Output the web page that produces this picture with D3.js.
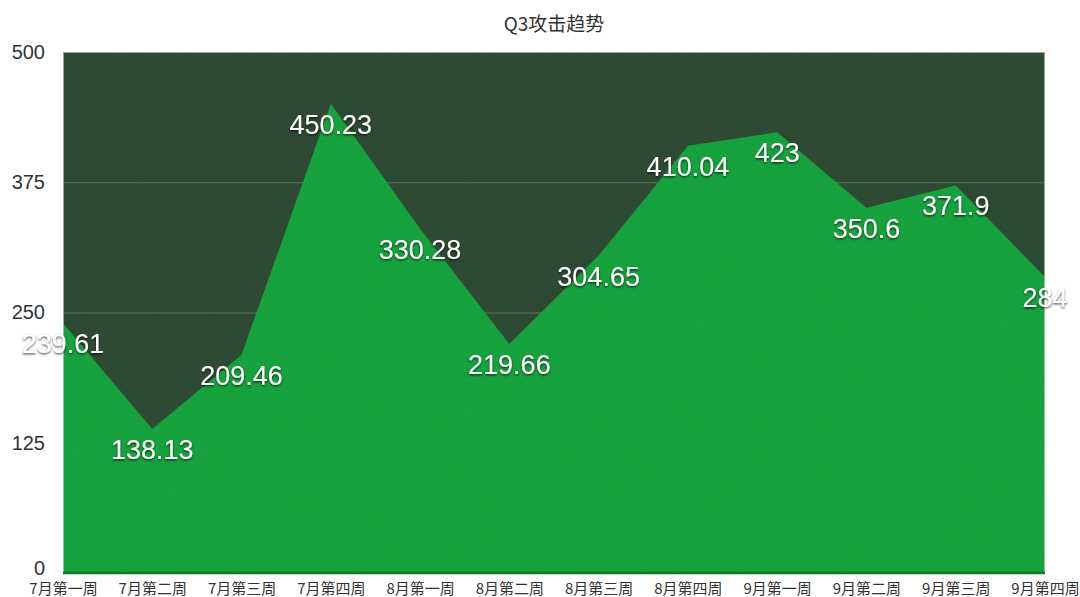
<!DOCTYPE html>
<html>
<head>
<meta charset="utf-8">
<script src="https://cdn.jsdelivr.net/npm/d3@7"></script>
<style>
  html, body { margin: 0; padding: 0; background: #fff; }
  svg { display: block; }
</style>
</head>
<body>
<div id="chart"></div>
<script>
// Weekly attack counts for Q3
const weeks = ["7月第一周", "7月第二周", "7月第三周", "7月第四周",
               "8月第一周", "8月第二周", "8月第三周", "8月第四周",
               "9月第一周", "9月第二周", "9月第三周", "9月第四周"];
const attacks = [239.61, 138.13, 209.46, 450.23, 330.28, 219.66,
                 304.65, 410.04, 423, 350.6, 371.9, 284];
const yTicks = [0, 125, 250, 375, 500];
const title = "Q3攻击趋势";

const W = 1080, H = 597;
const m = { top: 52, right: 35, bottom: 24, left: 63 };
const iw = W - m.left - m.right, ih = H - m.top - m.bottom;

const svg = d3.select("#chart").append("svg")
  .attr("width", W).attr("height", H);

const defs = svg.append("defs");
// Grain for the chalkboard-like plot surface
const grain = defs.append("filter").attr("id", "grain")
  .attr("x", 0).attr("y", 0).attr("width", "100%").attr("height", "100%");
grain.append("feTurbulence").attr("type", "fractalNoise")
  .attr("baseFrequency", 0.85).attr("numOctaves", 2).attr("seed", 3);
grain.append("feColorMatrix").attr("type", "matrix")
  .attr("values", "0 0 0 0 0  0 0 0 0 0  0 0 0 0 0  0 0 0 -1.2 1.1");
// Soft dark shadow under value labels
const shadow = defs.append("filter").attr("id", "shadow")
  .attr("x", "-20%").attr("y", "-30%").attr("width", "140%").attr("height", "160%");
shadow.append("feDropShadow").attr("dx", 0).attr("dy", 1.2)
  .attr("stdDeviation", 1.1).attr("flood-color", "#000").attr("flood-opacity", 0.75);
defs.append("clipPath").attr("id", "plotClip")
  .append("rect").attr("width", iw).attr("height", ih);

const x = d3.scalePoint().domain(weeks).range([0, iw]);
const y = d3.scaleLinear().domain([0, 500]).range([ih, 0]);

const g = svg.append("g").attr("transform", `translate(${m.left},${m.top})`);

// Plot background
g.append("rect").attr("width", iw).attr("height", ih).attr("fill", "#314d36");

// Gridlines
g.append("g").selectAll("line").data(yTicks.filter(t => t > 0 && t < 500)).join("line")
  .attr("x1", 0).attr("x2", iw)
  .attr("y1", d => y(d) + 0.5).attr("y2", d => y(d) + 0.5)
  .attr("stroke", "#6f8670").attr("stroke-width", 1).attr("opacity", 0.8);

// Area
const area = d3.area()
  .x((d, i) => x(weeks[i]))
  .y0(ih)
  .y1(d => y(d));
g.append("path").datum(attacks)
  .attr("d", area)
  .attr("fill", "#18a841");

// Grain overlay
g.append("rect").attr("width", iw).attr("height", ih)
  .attr("fill", "#000").attr("filter", "url(#grain)").attr("opacity", 0.07)
  .attr("clip-path", "url(#plotClip)");

// Plot border
g.append("rect").attr("x", 0.5).attr("y", 0.5).attr("width", iw - 1).attr("height", ih - 1)
  .attr("fill", "none").attr("stroke", "#c9cfc9").attr("stroke-width", 1).attr("opacity", 0.7);

// Baseline
g.append("line").attr("x1", 0).attr("x2", iw).attr("y1", ih).attr("y2", ih)
  .attr("stroke", "#0d7a2c").attr("stroke-width", 2.5);

// Y axis labels
const yAxis = g.append("g").call(d3.axisLeft(y).tickValues(yTicks).tickSize(0).tickPadding(18));
yAxis.select(".domain").remove();
yAxis.selectAll("text")
  .attr("fill", "#333").attr("font-size", "20px")
  .attr("font-family", "'Liberation Sans', Arial, Helvetica, sans-serif");
// Lift the zero label so it clears the first category name
yAxis.selectAll(".tick").filter(d => d === 0).select("text").attr("dy", "0.05em");

// X axis labels
const xAxis = g.append("g").attr("transform", `translate(0,${ih})`)
  .call(d3.axisBottom(x).tickSize(0).tickPadding(10));
xAxis.select(".domain").remove();
xAxis.selectAll("text")
  .attr("fill", "#333").attr("font-size", "15px")
  .attr("font-family", "'Noto Sans CJK SC', sans-serif");

// Value labels
g.append("g").selectAll("text").data(attacks).join("text")
  .attr("x", (d, i) => x(weeks[i]))
  .attr("y", d => y(d) + 21)
  .attr("text-anchor", "middle")
  .attr("dominant-baseline", "central")
  .attr("fill", "#fff")
  .attr("font-size", "27px")
  .attr("font-family", "'Liberation Sans', Arial, Helvetica, sans-serif")
  .attr("filter", "url(#shadow)")
  .text(d => d);

// Title
svg.append("text")
  .attr("x", m.left + iw / 2).attr("y", 22)
  .attr("text-anchor", "middle").attr("dominant-baseline", "central")
  .attr("fill", "#333").attr("font-size", "19px")
  .attr("font-family", "'Noto Sans CJK SC', sans-serif")
  .text(title);
</script>
</body>
</html>
